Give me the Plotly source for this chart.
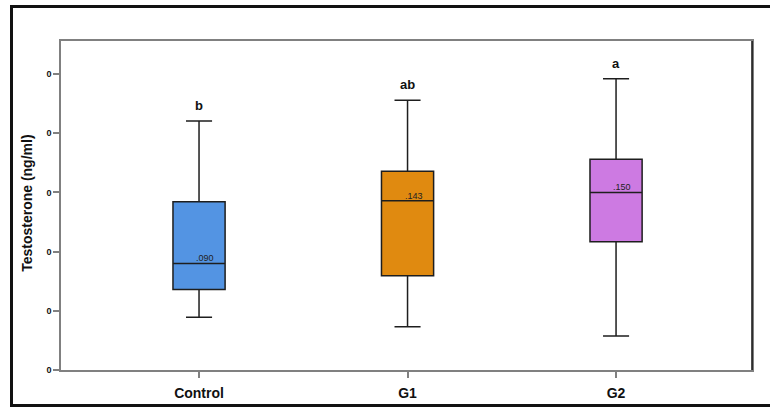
import plotly.graph_objects as go

# Group summary statistics (ng/ml)
groups = ["Control", "G1", "G2"]
lower_whisker = [0.0445, 0.0366, 0.0287]
q1_values = [0.0681, 0.0797, 0.1084]
medians = [0.090, 0.143, 0.150]
q3_values = [0.1422, 0.1680, 0.1780]
upper_whisker = [0.2103, 0.2280, 0.2460]
median_labels = [".090", ".143", ".150"]
sig_letters = ["b", "ab", "a"]
box_colors = ["#5394e3", "#e08a10", "#cd7ae2"]

y_tick_values = [0, 0.05, 0.10, 0.15, 0.20, 0.25]
y_tick_labels = ["0", "0", "0", "0", "0", "0"]

FONT = "Liberation Sans, Arial, sans-serif"

fig = go.Figure()
for i, g in enumerate(groups):
    fig.add_trace(go.Box(
        x=[g],
        q1=[q1_values[i]], median=[medians[i]], q3=[q3_values[i]],
        lowerfence=[lower_whisker[i]], upperfence=[upper_whisker[i]],
        fillcolor=box_colors[i],
        line=dict(color="#1e1e1e", width=1.5),
        width=0.25, whiskerwidth=0.5,
        boxpoints=False, showlegend=False, hoverinfo="skip",
    ))

annotations = []
for i, g in enumerate(groups):
    # median value printed just above the median line
    annotations.append(dict(
        x=g, y=medians[i], xref="x", yref="y",
        text=median_labels[i], showarrow=False,
        xanchor="center", yanchor="bottom", xshift=6, yshift=-2,
        font=dict(family=FONT, size=9, color="#222222"),
    ))
    # significance letter above the upper whisker
    annotations.append(dict(
        x=g, y=upper_whisker[i], xref="x", yref="y",
        text="<b>%s</b>" % sig_letters[i], showarrow=False,
        xanchor="center", yanchor="bottom", yshift=6,
        font=dict(family=FONT, size=13, color="#111111"),
    ))

# y-axis title
annotations.append(dict(
    x=0, y=0.505, xref="paper", yref="paper",
    text="<b>Testosterone (ng/ml)</b>", showarrow=False,
    textangle=-90, xanchor="center", yanchor="middle", xshift=-34,
    font=dict(family=FONT, size=14, color="#111111"),
))

shapes = [
    # outer frame
    dict(type="rect", xref="paper", yref="paper",
         x0=-49.5 / 691, x1=1 + 25 / 691, y0=-35.5 / 329, y1=1 + 34.5 / 329,
         line=dict(color="#111111", width=3), fillcolor="rgba(0,0,0,0)"),
    # right edge of the plot frame
    dict(type="line", xref="paper", yref="paper",
         x0=1, x1=1, y0=0, y1=1,
         line=dict(color="#111111", width=1.5)),
]

fig.update_layout(
    width=770, height=408,
    margin=dict(l=61, r=18, t=41, b=38),
    paper_bgcolor="white", plot_bgcolor="white",
    font=dict(family=FONT, color="#111111"),
    annotations=annotations, shapes=shapes,
    xaxis=dict(
        type="category", categoryorder="array", categoryarray=groups,
        range=[-0.662, 2.652], automargin=False,
        showline=True, linecolor="#808080", linewidth=1.5, mirror=True,
        ticks="outside", ticklen=6, tickcolor="#808080", tickwidth=1.5,
        ticklabelstandoff=3,
        tickfont=dict(family=FONT, size=14, color="#111111"),
        tickvals=groups, ticktext=["<b>%s</b>" % g for g in groups],
        showgrid=False, zeroline=False, fixedrange=True,
    ),
    yaxis=dict(
        range=[0, 0.278], automargin=False,
        tickvals=y_tick_values, ticktext=["<b>%s</b>" % t for t in y_tick_labels],
        showline=True, linecolor="#808080", linewidth=1.5, mirror=True,
        ticks="outside", ticklen=6, tickcolor="#808080", tickwidth=1.5,
        tickfont=dict(family=FONT, size=9, color="#111111"),
        showgrid=False, zeroline=False, fixedrange=True,
    ),
)

fig.write_html("out.html")
